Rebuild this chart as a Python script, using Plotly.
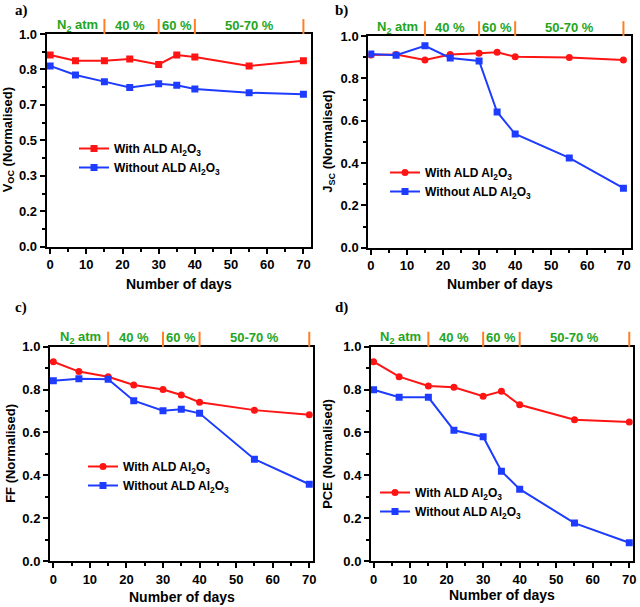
import plotly.graph_objects as go

days = [0, 7, 15, 22, 30, 35, 40, 55, 70]

voc_with = [0.901, 0.874, 0.874, 0.882, 0.857, 0.901, 0.892, 0.850, 0.874]
voc_without = [0.850, 0.807, 0.776, 0.749, 0.766, 0.759, 0.741, 0.724, 0.717]

jsc_with = [0.910, 0.913, 0.887, 0.913, 0.918, 0.923, 0.902, 0.899, 0.887]
jsc_without = [0.915, 0.909, 0.954, 0.896, 0.882, 0.641, 0.537, 0.424, 0.281]

ff_with = [0.930, 0.884, 0.860, 0.821, 0.800, 0.775, 0.741, 0.704, 0.682]
ff_without = [0.841, 0.851, 0.848, 0.748, 0.701, 0.708, 0.689, 0.475, 0.358]

pce_with = [0.930, 0.860, 0.817, 0.811, 0.769, 0.792, 0.729, 0.659, 0.649]
pce_without = [0.799, 0.764, 0.764, 0.610, 0.580, 0.419, 0.335, 0.177, 0.085]

x_title = "Number of days"
y_titles = ["V<sub>OC</sub> (Normalised)", "J<sub>SC</sub> (Normalised)",
            "FF (Normalised)", "PCE (Normalised)"]
panel_labels = ["a)", "b)", "c)", "d)"]
region_labels = ["N<sub>2</sub> atm", "40 %", "60 %", "50-70 %"]
region_centers = [7.5, 22, 35, 55]
region_bounds = [15, 30, 40, 70]
legend_names = ["With ALD Al<sub>2</sub>O<sub>3</sub>", "Without ALD Al<sub>2</sub>O<sub>3</sub>"]

RED = "#FF1414"
BLUE = "#1E3CFF"
GREEN = "#1FA51F"
ORANGE = "#FF7F27"
FONT = "Liberation Sans"

W, H = 640, 607

def px_x(p):
    return p / W

def px_y(p):
    return 1 - p / H

panels = [
    dict(with_=voc_with, without=voc_without, sym="square",
         xd=(46.7, 311), yd=(246.7, 34), xr=[-0.95, 72.1],
         dtick=1 / 6, leg=(74, 134), lab=(13, 10), ytx=8, xty=283.5),
    dict(with_=jsc_with, without=jsc_without, sym="circle",
         xd=(368.3, 631), yd=(247.7, 36), xr=[-0.7, 72.1],
         dtick=0.2, leg=(385, 158), lab=(333, 10), ytx=329, xty=283.5),
    dict(with_=ff_with, without=ff_without, sym="circle",
         xd=(50, 313.3), yd=(561, 346.7), xr=[-0.9, 71.1],
         dtick=0.2, leg=(83, 452), lab=(13, 307), ytx=11, xty=596.5),
    dict(with_=pce_with, without=pce_without, sym="circle",
         xd=(371, 633.3), yd=(561, 346.7), xr=[-0.7, 71.1],
         dtick=0.2, leg=(375, 478), lab=(333, 307), ytx=328, xty=595),
]

fig = go.Figure()
annotations = []
shapes = []
layout = {}

for i, p in enumerate(panels):
    n = i + 1
    xa = "x" if n == 1 else f"x{n}"
    ya = "y" if n == 1 else f"y{n}"
    leg = "legend" if n == 1 else f"legend{n}"
    fig.add_trace(go.Scatter(
        x=days, y=p["with_"], mode="lines+markers", name=legend_names[0],
        line=dict(color=RED, width=2), marker=dict(symbol=p["sym"], size=7, color=RED),
        xaxis=xa, yaxis=ya, legend=leg))
    fig.add_trace(go.Scatter(
        x=days, y=p["without"], mode="lines+markers", name=legend_names[1],
        line=dict(color=BLUE, width=2), marker=dict(symbol="square", size=7, color=BLUE),
        xaxis=xa, yaxis=ya, legend=leg))

    xkey = "xaxis" if n == 1 else f"xaxis{n}"
    ykey = "yaxis" if n == 1 else f"yaxis{n}"
    layout[xkey] = dict(
        domain=[px_x(p["xd"][0]), px_x(p["xd"][1])], range=p["xr"], anchor=ya,
        dtick=10, tick0=0, automargin=False,
        showgrid=False, zeroline=False, showline=True, linecolor="black", linewidth=2,
        mirror=True, ticks="outside", ticklen=5, tickwidth=1.5, tickcolor="black",
        minor=dict(ticks="outside", ticklen=3, dtick=5, tick0=0, tickcolor="black", tickwidth=1.5),
        tickfont=dict(family=FONT, size=13, color="black", weight="bold"),
    )
    layout[ykey] = dict(
        domain=[px_y(p["yd"][0]), px_y(p["yd"][1])], range=[0, 1], anchor=xa,
        dtick=p["dtick"], tick0=0, automargin=False,
        tickformat=".1f", showgrid=False, zeroline=False, showline=True,
        linecolor="black", linewidth=2, mirror=True, ticks="outside", ticklen=5,
        tickwidth=1.5, tickcolor="black",
        minor=dict(ticks="outside", ticklen=3, dtick=p["dtick"] / 2, tick0=0,
                   tickcolor="black", tickwidth=1.5),
        tickfont=dict(family=FONT, size=13, color="black", weight="bold"),
    )
    layout[leg] = dict(
        x=px_x(p["leg"][0]), y=px_y(p["leg"][1]), xanchor="left", yanchor="top",
        bgcolor="rgba(0,0,0,0)", borderwidth=0, tracegroupgap=0,
        itemwidth=30, font=dict(family=FONT, size=12, color="black", weight="bold"),
    )

    # axis titles
    annotations.append(dict(
        x=px_x((p["xd"][0] + p["xd"][1]) / 2), y=px_y(p["xty"]), xref="paper", yref="paper",
        text=x_title, showarrow=False, xanchor="center", yanchor="middle",
        font=dict(family=FONT, size=14, color="black", weight="bold")))
    annotations.append(dict(
        x=px_x(p["ytx"]), y=px_y((p["yd"][0] + p["yd"][1]) / 2), xref="paper", yref="paper",
        text=y_titles[i], textangle=-90, showarrow=False, xanchor="center", yanchor="middle",
        font=dict(family=FONT, size=13, color="black", weight="bold")))

    # humidity regions above the plot
    for b in region_bounds:
        shapes.append(dict(type="line", xref=xa, yref=f"{ya} domain",
                           x0=b, x1=b, y0=1.0, y1=1.07,
                           line=dict(color=ORANGE, width=2)))
    for c, t in zip(region_centers, region_labels):
        annotations.append(dict(x=c, y=1.042, xref=xa, yref=f"{ya} domain",
                                text=t, showarrow=False, yanchor="middle",
                                font=dict(family=FONT, size=13, color=GREEN, weight="bold")))
    annotations.append(dict(x=px_x(p["lab"][0]), y=px_y(p["lab"][1]), xref="paper", yref="paper",
                            text=panel_labels[i], showarrow=False, xanchor="left", yanchor="middle",
                            font=dict(family="Liberation Serif", size=15, color="black", weight="bold")))

fig.update_layout(
    width=W, height=H, margin=dict(l=0, r=0, t=0, b=0, pad=0, autoexpand=False),
    paper_bgcolor="white", plot_bgcolor="white",
    annotations=annotations, shapes=shapes, showlegend=True,
    **layout,
)

# remove the default 8px page margin so the figure fills the whole window
fig.write_html("out.html", config={"displayModeBar": False},
               post_script="document.body.style.margin='0px';")
